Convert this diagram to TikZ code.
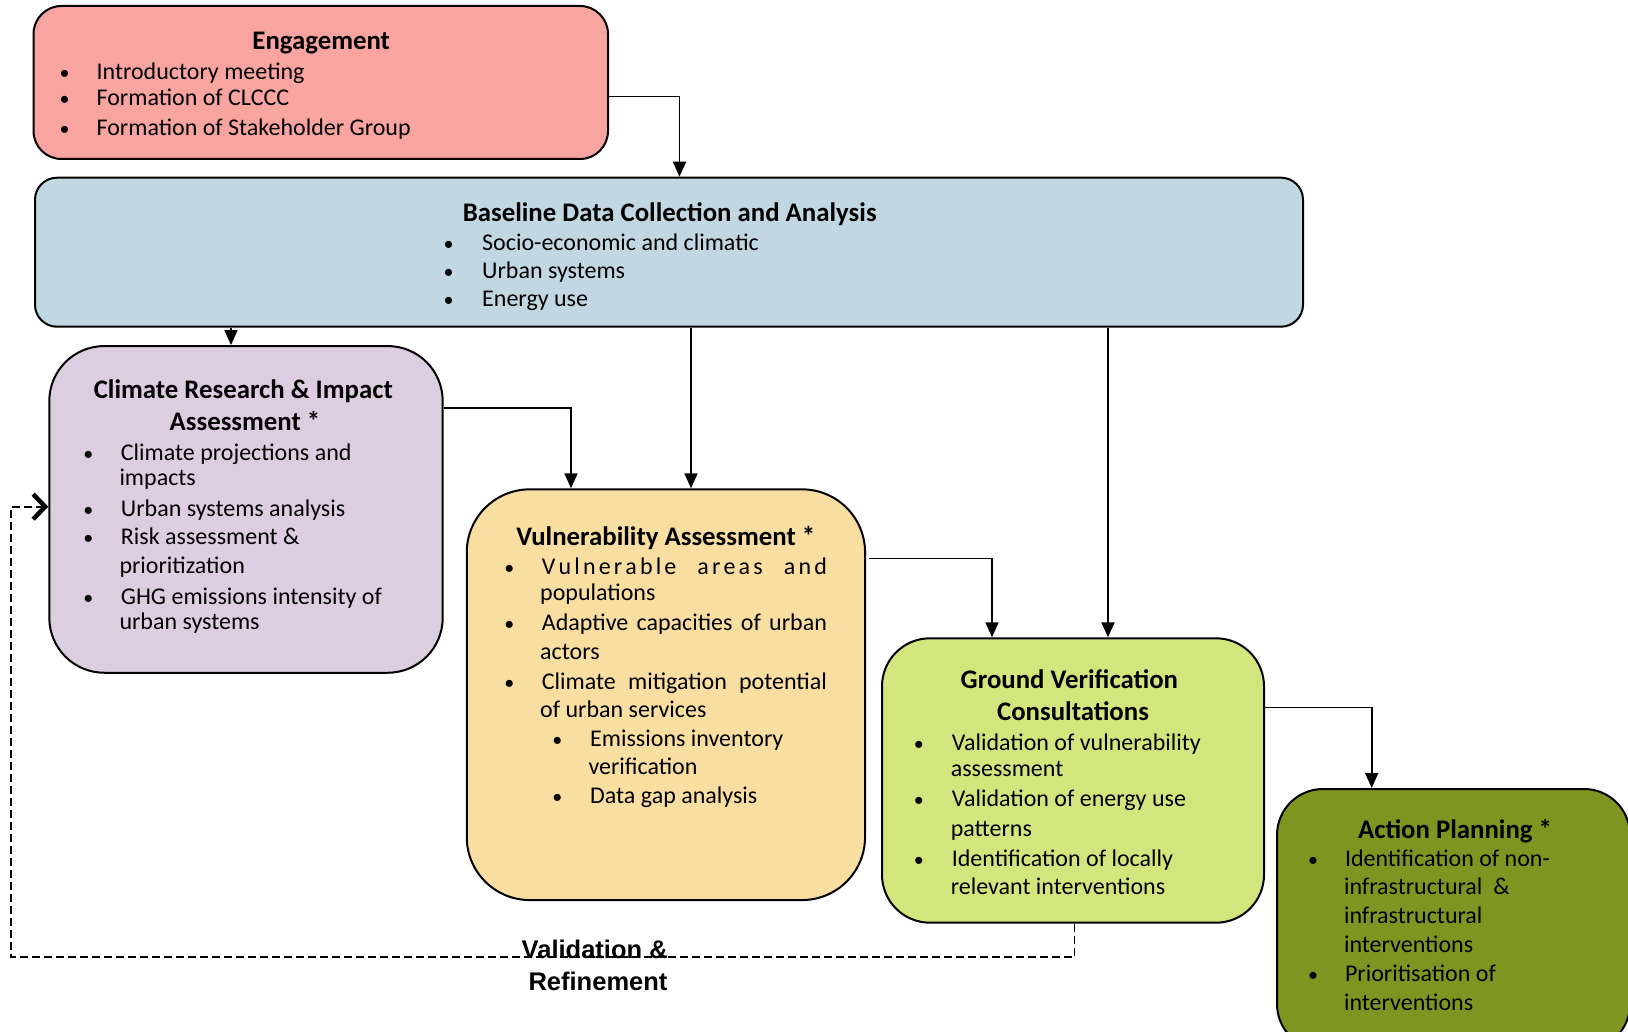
\documentclass[tikz,border=0pt]{standalone}
\usepackage{fontspec}
\setmainfont{Carlito}
\newfontfamily\arialfont{Liberation Sans}
\usetikzlibrary{arrows.meta}
\definecolor{engc}{HTML}{F8A4A1}
\definecolor{basec}{HTML}{C1D8E2}
\definecolor{climc}{HTML}{DDCDE0}
\definecolor{vulnc}{HTML}{F8DEA1}
\definecolor{grc}{HTML}{D3E67E}
\definecolor{actc}{HTML}{7E9621}
\newcommand\bodysize{\fontsize{24}{27}\selectfont}
\newcommand\titlesize{\fontsize{26.8}{30}\selectfont}
\newcommand\bulsize{\fontsize{20}{22}\selectfont}
\newcommand\lgap{\hskip 0pt plus 1fil\relax}
\newcommand\wgap{\hskip 0.226em plus 5fil\relax}
\begin{document}
\begin{tikzpicture}[x=1pt,y=-1pt,
 box/.style={draw=black, line width=2pt, inner sep=0pt},
 tx/.style={font=\bodysize, inner sep=0pt, anchor=base west},
 bl/.style={font=\bulsize, inner sep=0pt, anchor=base},
 tt/.style={font=\titlesize\bfseries, inner sep=0pt, anchor=base},
 conn/.style={line width=1.6pt, -{Triangle[length=15pt,width=13pt]}},
 fback/.style={line width=1.7pt, dash pattern=on 8pt off 4pt, -{Straight Barb[length=12pt,width=25pt,line width=4.5pt]}},
 lbl/.style={font=\arialfont\bfseries\fontsize{25.5}{30}\selectfont, inner sep=0pt, anchor=base},
]
\useasboundingbox (0,0) rectangle (1628,1032);

% boxes
\node[box, fill=engc, rounded corners=28pt, minimum width=574.5pt, minimum height=153pt] (eng) at (320.75,82.5) {};
\node[box, fill=basec, rounded corners=22pt, minimum width=1268pt, minimum height=149pt] (base) at (669,252.2) {};
\node[box, fill=climc, rounded corners=55pt, minimum width=393.4pt, minimum height=326.7pt] (clim) at (246,509.4) {};
\node[box, fill=vulnc, rounded corners=63pt, minimum width=398.3pt, minimum height=410.7pt] (vuln) at (665.9,694.7) {};
\node[box, fill=grc, rounded corners=48pt, minimum width=382pt, minimum height=284.4pt] (gr) at (1073,780.5) {};
\node[box, fill=actc, rounded corners=46pt, minimum width=353pt, minimum height=261pt] (act) at (1453.5,919.5) {};

% connectors
\draw[conn] ([yshift=-14.2pt]eng.east) -| ([xshift=10.5pt]base.north);
\draw[conn] ([xshift=-438pt]base.south) -- ([xshift=-15pt]clim.north);
\draw[conn] ([yshift=101.7pt]clim.east) -| ([xshift=-94.9pt]vuln.north);
\draw[conn] ([xshift=22pt]base.south) -- ([xshift=25.1pt]vuln.north);
\draw[conn] ([xshift=3pt,yshift=136.4pt]vuln.east) -| ([xshift=-81pt]gr.north);
\draw[conn] ([xshift=439pt]base.south) -- ([xshift=35pt]gr.north);
\draw[conn] ([yshift=73.2pt]gr.east) -| ([xshift=-81.8pt]act.north);
\coordinate (fb) at (11,506.7);
\draw[fback] ([xshift=1.5pt]gr.south) -- ++(0,33.3) -| (fb) -- ([yshift=2.7pt]clim.west);

% Engagement
\node[tt] (engT) at (321.2,49.3) {Engagement};
\node[bl] (engB1) at (64.7,80) {•};
\node[tx] (engL1) at (96.4,80) {Introductory meeting};
\node[bl] (engB2) at (64.7,106) {•};
\node[tx] (engL2) at (96.4,106) {Formation of CLCCC};
\node[bl] (engB3) at (64.7,136) {•};
\node[tx] (engL3) at (96.4,136) {Formation of Stakeholder Group};

% Baseline
\node[tt] (baseT) at (669.7,221.7) {Baseline Data Collection and Analysis};
\node[bl] (baseB1) at (448.7,250.7) {•};
\node[tx] (baseL1) at (482,250.7) {Socio-economic and climatic};
\node[bl] (baseB2) at (448.7,278.3) {•};
\node[tx] (baseL2) at (482,278.3) {Urban systems};
\node[bl] (baseB3) at (448.7,306.7) {•};
\node[tx] (baseL3) at (482,306.7) {Energy use};

% Climate
\node[tt] (climT1) at (243.3,398.3) {Climate Research \& Impact};
\node[tt] (climT2) at (245,430) {Assessment *};
\node[bl] (climB1) at (88.3,460) {•};
\node[tx] (climL1) at (120.7,460) {Climate projections and};
\node[tx] (climL1b) at (119.3,485.7) {impacts};
\node[bl] (climB2) at (88.3,516) {•};
\node[tx] (climL2) at (120.7,516) {Urban systems analysis};
\node[bl] (climB3) at (88.3,544) {•};
\node[tx] (climL3) at (120.7,544) {Risk assessment \&};
\node[tx] (climL3b) at (119.3,573.3) {prioritization};
\node[bl] (climB4) at (88.3,604) {•};
\node[tx] (climL4) at (120.7,604) {GHG emissions intensity of};
\node[tx] (climL4b) at (119.3,629.3) {urban systems};

% Vulnerability
\node[tt] (vulnT) at (665.7,545) {Vulnerability Assessment *};
\node[bl] (vulnB1) at (509.3,574) {•};
\node[tx] (vulnL1) at (541.7,574) {\makebox[285pt][s]{V\lgap u\lgap l\lgap n\lgap e\lgap r\lgap a\lgap b\lgap l\lgap e\wgap a\lgap r\lgap e\lgap a\lgap s\wgap a\lgap n\lgap d}};
\node[tx] (vulnL1b) at (540,600) {populations};
\node[bl] (vulnB2) at (509.3,630) {•};
\node[tx] (vulnL2) at (541.7,630) {\makebox[285pt][s]{Adaptive capacities of urban}};
\node[tx] (vulnL2b) at (540,659.3) {actors};
\node[bl] (vulnB3) at (509.3,689) {•};
\node[tx] (vulnL3) at (541.7,689) {\makebox[285pt][s]{Climate mitigation potential}};
\node[tx] (vulnL3b) at (540,717.3) {of urban services};
\node[bl] (vulnS1) at (557.3,746) {•};
\node[tx] (vulnM1) at (590,746) {Emissions inventory};
\node[tx] (vulnM1b) at (588.3,774) {verification};
\node[bl] (vulnS2) at (557.3,803.3) {•};
\node[tx] (vulnM2) at (590,803.3) {Data gap analysis};

% Ground verification
\node[tt] (grT1) at (1069.4,688.3) {Ground Verification};
\node[tt] (grT2) at (1073,720) {Consultations};
\node[bl] (grB1) at (918.8,750) {•};
\node[tx] (grL1) at (951.6,750) {Validation of vulnerability};
\node[tx] (grL1b) at (950.6,776.7) {assessment};
\node[bl] (grB2) at (918.8,806.7) {•};
\node[tx] (grL2) at (951.6,806.7) {Validation of energy use};
\node[tx] (grL2b) at (950.6,836) {patterns};
\node[bl] (grB3) at (918.8,866) {•};
\node[tx] (grL3) at (951.6,866) {Identification of locally};
\node[tx] (grL3b) at (950.6,894) {relevant interventions};

% Action planning
\node[tt] (actT) at (1455,838.3) {Action Planning *};
\node[bl] (actB1) at (1313,866.7) {•};
\node[tx] (actL1) at (1344.8,866.7) {Identification of non-};
\node[tx] (actL1b) at (1343.8,894) {infrastructural\ \ \&};
\node[tx] (actL1c) at (1343.8,923.3) {infrastructural};
\node[tx] (actL1d) at (1343.8,952.3) {interventions};
\node[bl] (actB2) at (1313,981.7) {•};
\node[tx] (actL2) at (1344.8,981.7) {Prioritisation of};
\node[tx] (actL2b) at (1343.8,1010) {interventions};

% feedback label
\node[lbl] (vr1) at (594.7,958) {Validation \&};
\node[lbl] (vr2) at (598,990) {Refinement};
\end{tikzpicture}
\end{document}
